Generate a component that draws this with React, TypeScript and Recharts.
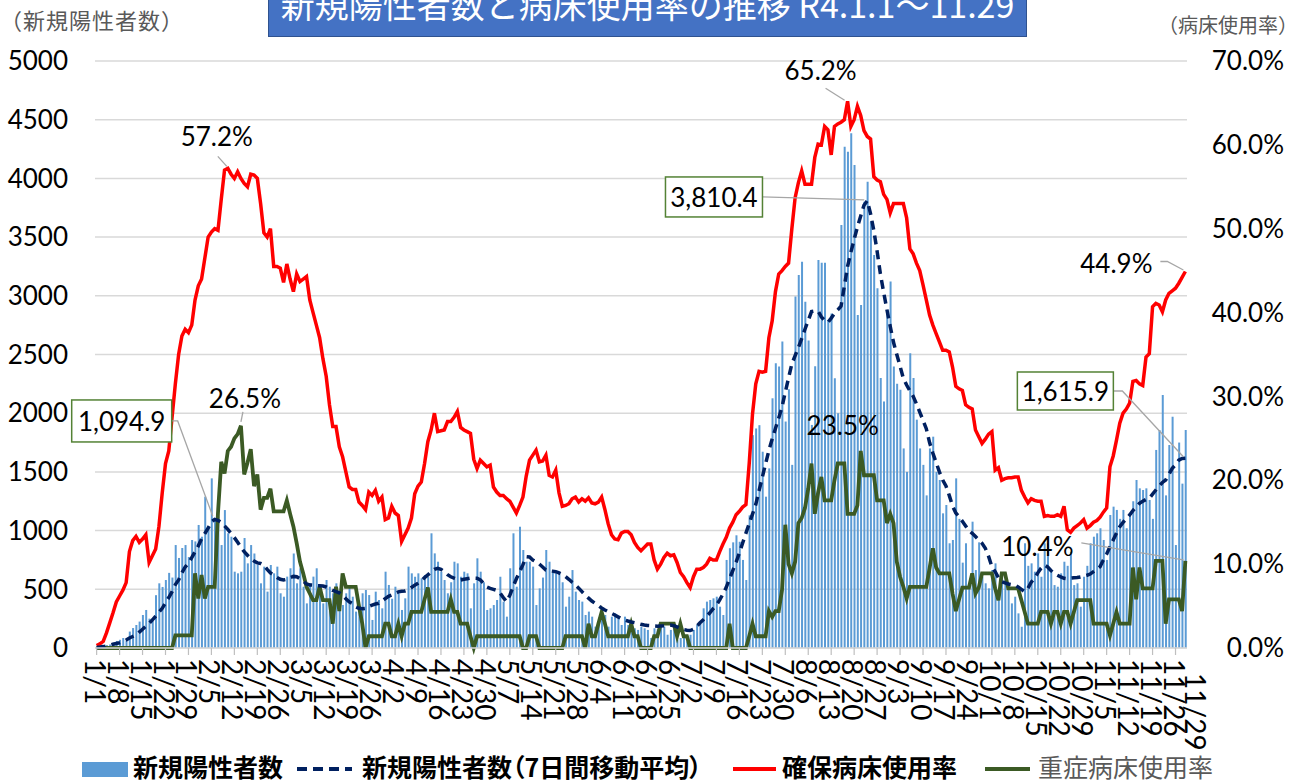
import React from "react";
import { Bar, ComposedChart, Line, XAxis, YAxis, CartesianGrid, ReferenceDot } from "recharts";

// 1/1 〜 11/29 の日付
const monthLengths = [31, 28, 31, 30, 31, 30, 31, 31, 30, 31, 29];
const dates: string[] = [];
monthLengths.forEach((len, m) => {
  for (let d = 1; d <= len; d++) dates.push(`${m + 1}/${d}`);
});

// 新規陽性者数（日別）
const positives = [
  10, 15, 12, 25, 30, 45, 60,
  70, 85, 60, 140, 170, 196, 225,
  281, 324, 250, 230, 450, 551, 520,
  579, 640, 600, 877, 767, 852, 877,
  775, 920, 908, 1048, 948, 1289, 1034,
  1445, 1090, 1118, 877, 1175, 977, 948,
  650, 636, 650, 937, 721, 877, 805,
  707, 551, 693, 480, 707, 636, 693,
  466, 437, 608, 679, 805, 551, 679,
  522, 380, 551, 608, 679, 494, 380,
  579, 522, 466, 551, 394, 366, 466,
  522, 437, 310, 324, 466, 494, 451,
  239, 480, 409, 338, 650, 537, 420,
  522, 466, 324, 423, 693, 636, 607,
  636, 594, 621, 607, 977, 806, 735,
  650, 579, 466, 560, 735, 721, 607,
  650, 636, 338, 551, 764, 650, 560,
  324, 338, 366, 409, 607, 395, 267,
  679, 977, 522, 1033, 835, 735, 735,
  693, 366, 508, 600, 835, 735, 664,
  636, 636, 560, 352, 437, 664, 480,
  409, 395, 281, 310, 267, 182, 224,
  310, 281, 182, 267, 295, 253, 196,
  267, 196, 224, 168, 154, 182, 168,
  154, 85, 168, 160, 190, 182, 113,
  154, 168, 71, 85, 85, 57, 113,
  154, 196, 210, 338, 395, 409, 423,
  437, 352, 281, 750, 850, 900, 960,
  905, 750, 579, 1130, 1813, 1870, 1898,
  1672, 1289, 1530, 2127, 2425, 2397, 2610,
  1929, 2205, 1560, 2993, 3177, 3291, 2950,
  2620, 1900, 2400, 3305, 3282, 3282, 2794,
  2850, 2298, 2000, 3603, 4270, 4228, 4384,
  4114, 2836, 2921, 3801, 3971, 3631, 3347,
  3064, 2300, 2100, 2879, 3121, 2397, 2250,
  2200, 1700, 1500, 2510, 2300, 1945, 1700,
  1560, 1300, 1700, 1800, 1500, 1431, 1147,
  1218, 892, 920, 1445, 1100, 727, 892,
  522, 1076, 664, 900, 607, 551, 508,
  664, 721, 466, 636, 580, 494, 380,
  437, 295, 181, 892, 700, 721, 650,
  806, 607, 892, 892, 664, 536, 522,
  636, 735, 700, 820, 536, 551, 352,
  607, 700, 892, 948, 977, 1020, 920,
  750, 1133, 1204, 1176, 1100, 1176, 1020,
  1147, 1250, 1431, 1360, 1346, 1360, 1261,
  1100, 1687, 1857, 2155, 1300, 1729, 1970,
  877, 1750, 1400, 1857,
];

// 新規陽性者数（7日間移動平均）
const movingAvg = [
  5, 8, 12, 18, 25, 32, 38,
  45, 55, 68, 85, 98, 111, 135,
  160, 185, 210, 240, 270, 305, 338,
  385, 430, 480, 540, 580, 640, 690,
  721, 770, 820, 870, 930, 975, 1020,
  1075, 1094.9, 1088, 1070, 1040, 1010, 975,
  940, 900, 860, 820, 790, 760, 740,
  725, 720, 705, 670, 640, 622, 600,
  585, 579, 585, 600, 610, 607, 590,
  570, 545, 537, 535, 530, 530, 528,
  520, 505, 490, 480, 470, 450, 420,
  394, 380, 350, 338, 335, 338, 355,
  366, 375, 381, 400, 420, 440, 451,
  465, 478, 483, 486, 495, 515, 535,
  551, 570, 600, 622, 650, 670, 679,
  670, 650, 625, 607, 595, 585, 579,
  585, 590, 595, 595, 594, 580, 550,
  520, 508, 500, 491, 470, 430, 394,
  450, 522, 590, 650, 710, 778, 775,
  750, 735, 715, 690, 664, 660, 655,
  650, 640, 625, 607, 585, 560, 537,
  510, 480, 451, 425, 400, 381, 360,
  340, 324, 310, 295, 281, 265, 250,
  239, 230, 222, 216, 210, 202, 196,
  192, 190, 188, 186, 188, 190, 193,
  195, 190, 180, 168, 158, 152, 149,
  160, 185, 215, 241, 270, 300, 335,
  364, 410, 460, 517, 590, 660, 732,
  810, 895, 978, 1060, 1140, 1223, 1340,
  1455, 1570, 1683, 1780, 1870, 1960, 2052,
  2180, 2300, 2420, 2490, 2560, 2635, 2715,
  2790, 2865, 2870, 2870, 2820, 2790, 2773,
  2810, 2850, 2880, 2911, 3080, 3250, 3371,
  3480, 3587, 3680, 3771, 3810.4, 3700, 3556,
  3380, 3187, 3030, 2881, 2740, 2604, 2500,
  2400, 2297, 2240, 2190, 2144, 2080, 2010,
  1940, 1868, 1750, 1660, 1580, 1500, 1430,
  1380, 1300, 1210, 1150, 1118, 1080, 1040,
  1000, 977, 950, 920, 892, 850, 780,
  693, 650, 600, 565, 555, 545, 540,
  537, 520, 500, 480, 510, 560, 594,
  640, 680, 707, 690, 660, 636, 620,
  605, 594, 590, 595, 598, 600, 605,
  612, 620, 630, 650, 670, 693, 750,
  800, 863, 920, 980, 1033, 1070, 1100,
  1133, 1170, 1200, 1233, 1250, 1265, 1275,
  1310, 1346, 1380, 1410, 1431, 1480, 1530,
  1560, 1600, 1614, 1615.9,
];

// 確保病床使用率（%）
const bedRate = [
  0.3, 0.5, 0.8, 1.8, 3.0, 4.2, 5.5,
  6.2, 6.9, 7.8, 11.5, 12.8, 13.3, 12.6,
  13.0, 13.5, 10.2, 11.0, 11.8, 14.5, 18.5,
  22.0, 23.5, 27.5, 31.5, 35.0, 37.2, 38.0,
  37.6, 38.5, 41.5, 43.2, 44.0, 46.5, 49.0,
  49.6, 50.0, 49.8, 53.5, 57.0, 57.2, 56.5,
  56.0, 56.8, 56.0, 55.4, 55.0, 56.5, 56.4,
  56.0, 53.0, 49.5, 49.0, 50.0, 45.5, 45.5,
  45.3, 43.6, 45.8, 44.0, 42.5, 44.6, 43.7,
  44.0, 44.3, 41.5, 40.0, 38.5, 37.0, 34.5,
  32.4, 29.0, 26.4, 26.4, 24.0, 22.8, 21.0,
  19.2, 18.9, 18.9, 17.4, 17.0, 16.5, 18.6,
  18.2, 18.8, 17.5, 18.0, 15.3, 15.5, 16.9,
  16.1, 15.8, 12.7, 13.5, 14.3, 15.5, 18.4,
  19.3, 19.8, 22.0, 24.6, 26.0, 28.0, 25.8,
  25.9, 26.0, 27.0, 27.0, 27.5, 28.2, 26.3,
  26.0, 25.8, 25.6, 22.5, 21.4, 22.4, 22.0,
  21.6, 21.8, 19.2, 18.6, 18.2, 18.2, 17.8,
  17.5, 16.8, 16.1, 17.0, 18.0, 20.5, 22.4,
  23.0, 23.6, 22.2, 22.3, 23.0, 20.6, 20.4,
  21.2, 18.5, 16.9, 17.0, 17.2, 17.8, 18.0,
  17.4, 17.8, 17.5, 17.9, 17.3, 17.2, 17.4,
  18.0, 16.5, 14.8, 13.5, 13.0, 12.9, 13.7,
  13.9, 13.9, 13.5, 12.6, 12.0, 11.6, 12.0,
  12.4, 12.4, 10.5, 9.4, 10.0, 10.8, 11.3,
  11.0, 11.1, 10.2, 9.0, 8.5, 7.8, 7.2,
  8.5, 9.4, 9.4, 9.6, 10.0, 10.7, 10.5,
  10.5, 11.5, 12.4, 13.2, 14.3, 15.0, 15.9,
  16.3, 16.8, 17.1, 22.0, 27.9, 31.5, 33.0,
  32.9, 33.0, 37.0, 39.0, 42.5, 44.6, 45.0,
  45.5, 45.9, 50.0, 53.7, 55.5, 56.9, 55.3,
  55.3, 55.3, 58.5, 60.1, 60.0, 62.2, 61.8,
  58.8, 62.2, 62.5, 62.7, 63.0, 65.2, 62.2,
  63.0, 64.6, 63.5, 61.7, 61.0, 60.7, 56.2,
  55.8, 55.6, 54.1, 53.5, 51.9, 53.0, 53.0,
  53.0, 53.0, 51.3, 47.6, 47.0, 45.9, 45.0,
  43.3, 41.5, 39.7, 38.5, 37.5, 36.5, 35.5,
  35.5, 35.3, 33.5, 31.2, 30.9, 30.7, 29.0,
  28.7, 28.5, 26.0, 25.2, 24.4, 24.9, 25.5,
  25.8, 21.2, 21.5, 20.0, 20.2, 20.3, 20.3,
  20.4, 20.4, 18.8, 18.0, 17.3, 17.8, 17.6,
  17.5, 17.5, 15.7, 15.8, 15.7, 15.7, 15.9,
  15.7, 16.9, 14.1, 13.8, 14.3, 14.6, 14.9,
  15.3, 14.3, 14.6, 15.0, 15.2, 15.6, 16.2,
  16.7, 21.6, 22.9, 24.8, 26.8, 28.0, 28.5,
  29.2, 31.8, 31.9, 31.5, 31.3, 34.7, 35.1,
  40.7, 41.1, 40.9, 40.1, 41.5, 42.3, 42.6,
  42.9, 43.5, 44.2, 44.9,
];

// 重症病床使用率（%）
const severeRate = [
  0, 0, 0, 0, 0, 0, 0,
  0, 0, 0, 0, 0, 0, 0,
  0, 0, 0, 0, 0, 0, 0,
  0, 0, 0, 1.5, 1.5, 1.5, 1.5,
  1.5, 1.5, 8.9, 5.9, 8.7, 5.9, 7.3,
  7.3, 7.3, 16.1, 22.2, 20.8, 23.5, 24.0,
  25.0, 25.5, 26.5, 20.7, 22.1, 23.7, 19.3,
  20.7, 16.5, 17.9, 17.9, 19.0, 16.3, 16.3,
  16.3, 16.3, 17.6, 16.0, 14.5, 12.5, 10.3,
  8.9, 7.3, 6.5, 5.7, 5.7, 7.3, 5.7,
  5.7, 5.7, 2.9, 7.3, 4.4, 8.9, 7.3,
  7.3, 7.3, 7.3, 5.0, 2.9, 0, 1.4,
  1.4, 1.4, 1.4, 1.4, 2.9, 2.9, 1.4,
  1.4, 2.9, 1.4, 2.9, 2.9, 4.3, 4.3,
  4.3, 4.3, 5.8, 7.2, 4.3, 4.3, 4.3,
  4.3, 4.3, 4.3, 5.8, 4.3, 4.3, 2.9,
  2.9, 2.9, 1.4, 0, 1.4, 1.4, 1.4,
  1.4, 1.4, 1.4, 1.4, 1.4, 1.4, 1.4,
  1.4, 1.4, 1.4, 1.4, 0, 0, 1.4,
  1.4, 1.4, 0, 0, 0, 0, 0,
  0, 0, 0, 1.4, 1.4, 1.4, 1.4,
  1.4, 1.4, 0, 2.9, 1.4, 1.4, 2.9,
  4.3, 2.9, 1.4, 1.4, 1.4, 1.4, 1.4,
  1.4, 1.4, 2.9, 1.4, 1.4, 0, 0,
  0, 0, 1.4, 1.4, 2.9, 2.9, 2.9,
  2.9, 2.9, 1.4, 2.9, 1.4, 1.4, 0,
  0, 0, 0, 0, 0, 0, 0,
  0, 0, 0, 0, 2.9, 0, 0,
  0, 0, 0, 1.4, 2.9, 1.4, 1.4,
  1.4, 1.4, 4.4, 3.7, 4.4, 4.4, 6.9,
  14.7, 10.0, 8.9, 10.3, 14.9, 15.5, 16.7,
  19.0, 22.0, 16.0, 18.5, 20.4, 17.6, 17.6,
  17.6, 20.0, 22.0, 22.0, 22.0, 16.0, 16.0,
  16.0, 17.0, 23.5, 20.6, 20.6, 20.6, 20.6,
  17.6, 17.6, 17.6, 14.9, 16.0, 14.9, 10.3,
  8.5, 7.3, 5.9, 7.3, 7.3, 7.3, 7.3,
  7.3, 7.3, 9.5, 11.9, 9.6, 8.9, 8.9,
  8.9, 8.9, 6.5, 4.4, 5.8, 7.2, 7.2,
  7.2, 8.9, 6.5, 7.2, 8.9, 8.9, 8.9,
  8.9, 7.1, 5.7, 8.9, 8.9, 7.1, 7.1,
  7.1, 7.1, 5.7, 4.3, 2.9, 2.9, 2.9,
  2.9, 4.3, 4.3, 4.3, 2.9, 4.3, 4.3,
  2.9, 4.3, 4.3, 2.9, 4.3, 5.7, 5.7,
  5.7, 5.7, 5.7, 2.9, 2.9, 2.9, 2.9,
  2.9, 1.5, 2.9, 4.3, 2.9, 2.9, 2.9,
  2.9, 9.6, 5.8, 9.6, 7.1, 7.1, 7.1,
  7.1, 10.4, 10.4, 10.4, 2.9, 5.8, 5.8,
  5.8, 5.8, 4.4, 10.4,
];

const leftTicks = [0, 500, 1000, 1500, 2000, 2500, 3000, 3500, 4000, 4500, 5000];
const rightTicks = [0, 10, 20, 30, 40, 50, 60, 70];

const data = dates.map((date, i) => ({
  date,
  positives: positives[i],
  avg: movingAvg[i],
  bed: bedRate[i],
  severe: severeRate[i],
}));

const LAST = dates.length - 1;
const NUM_FONT = "Lato, 'Liberation Sans', sans-serif";
const JP_FONT = "'Noto Sans CJK JP', 'Noto Sans', sans-serif";

const fmtPct = (v: number) => `${v.toFixed(1)}%`;
const fmtNum = (v: number) =>
  v.toLocaleString("en-US", { minimumFractionDigits: 1, maximumFractionDigits: 1 });

const DateTick = (props: any) => {
  const { x, y, payload } = props;
  const i = props.index ?? payload.index;
  const last = i === LAST;
  if (i % 7 !== 0 && !last) return null;
  return (
    <g>
      {!last && <line x1={x} x2={x} y1={y - 8} y2={y - 1} stroke="#BFBFBF" strokeWidth={1.2} />}
      <text
        transform={`translate(${last ? x + 11 : x - 1},${y + (last ? 17 : 3)}) rotate(90)`}
        textAnchor="start"
        dominantBaseline="central"
        fontSize={28}
        fontFamily={NUM_FONT}
        fill="#000"
      >
        {payload.value}
      </text>
    </g>
  );
};

const RightTick = (props: any) => {
  const { x, y, payload } = props;
  return (
    <text x={x + 89} y={y} dy="0.35em" textAnchor="end" fontSize={26} fontFamily={NUM_FONT} fill="#000">
      {fmtPct(payload.value)}
    </text>
  );
};

type Box = { x: number; y: number; w: number; h: number };

const noteShape =
  (text: string, tx: number, ty: number, path: number[][], box?: Box) => (p: any) => {
    const { cx, cy } = p;
    return (
      <g>
        {path.length > 0 && (
          <polyline
            points={path.map(([dx, dy]) => `${cx + dx},${cy + dy}`).join(" ")}
            fill="none"
            stroke="#A6A6A6"
            strokeWidth={1.3}
          />
        )}
        {box && (
          <rect x={cx + box.x} y={cy + box.y} width={box.w} height={box.h} fill="#fff" stroke="#548235" strokeWidth={1.5} />
        )}
        <text
          x={cx + (box ? box.x + box.w / 2 : tx)}
          y={cy + (box ? box.y + box.h / 2 : ty)}
          textAnchor="middle"
          dominantBaseline="central"
          fontSize={26}
          fontFamily={NUM_FONT}
          fill="#000"
        >
          {text}
        </text>
      </g>
    );
  };

export default function App() {
  return (
    <div
      style={{
        position: "absolute",
        left: 0,
        top: 0,
        width: 1298,
        height: 780,
        overflow: "hidden",
        background: "#fff",
        fontFamily: JP_FONT,
      }}
    >
      <ComposedChart
        width={1298}
        height={780}
        data={data}
        margin={{ top: 61, right: 0, bottom: 52, left: 8 }}
      >
        <CartesianGrid yAxisId="left" vertical={false} stroke="#D9D9D9" strokeWidth={1.5} />
        <XAxis
          dataKey="date"
          interval={0}
          height={80}
          tickLine={false}
          axisLine={{ stroke: "#D9D9D9", strokeWidth: 1.5 }}
          tick={(p: any) => <DateTick {...p} />}
        />
        <YAxis
          yAxisId="left"
          domain={[0, 5000]}
          ticks={leftTicks}
          width={87}
          axisLine={false}
          tickLine={false}
          tickMargin={21}
          tick={{ fontSize: 26, fill: "#000", fontFamily: NUM_FONT }}
        />
        <YAxis
          yAxisId="right"
          orientation="right"
          domain={[0, 70]}
          ticks={rightTicks}
          width={111}
          axisLine={false}
          tickLine={false}
          tick={(p: any) => <RightTick {...p} />}
        />
        <Bar yAxisId="left" dataKey="positives" fill="#5B9BD5" barSize={2} isAnimationActive={false} />
        <Line
          yAxisId="right"
          type="linear"
          dataKey="bed"
          stroke="#FF0000"
          strokeWidth={3.5}
          dot={false}
          activeDot={false}
          isAnimationActive={false}
        />
        <Line
          yAxisId="right"
          type="linear"
          dataKey="severe"
          stroke="#3B5A24"
          strokeWidth={3.8}
          dot={false}
          activeDot={false}
          isAnimationActive={false}
        />
        <Line
          yAxisId="left"
          type="linear"
          dataKey="avg"
          stroke="#002060"
          strokeWidth={3.5}
          strokeDasharray="9 6"
          dot={false}
          activeDot={false}
          isAnimationActive={false}
        />

        <ReferenceDot yAxisId="right" x={dates[40]} y={bedRate[40]} r={0}
          shape={noteShape(fmtPct(bedRate[40]), -11, -32, [[-10, -12], [-1, -2]])} />
        <ReferenceDot yAxisId="right" x={dates[44]} y={severeRate[44]} r={0}
          shape={noteShape(fmtPct(severeRate[44]), 4, -28, [[2, -14], [0, -4]])} />
        <ReferenceDot yAxisId="left" x={dates[36]} y={movingAvg[36]} r={0}
          shape={noteShape(fmtNum(movingAvg[36]), 0, 0, [[-43, -98.5], [-37, -98.5], [-2, -3.5]], { x: -143, y: -119.5, w: 100, h: 42 })} />
        <ReferenceDot yAxisId="left" x={dates[235]} y={movingAvg[235]} r={0}
          shape={noteShape(fmtNum(movingAvg[235]), 0, 0, [[-104.8, -3.7], [-3, -0.7]], { x: -201.8, y: -23.7, w: 97, h: 40 })} />
        <ReferenceDot yAxisId="right" x={dates[229]} y={bedRate[229]} r={0}
          shape={noteShape(fmtPct(bedRate[229]), -27, -31.5, [[-22, -13], [-3, -1]])} />
        <ReferenceDot yAxisId="right" x={dates[233]} y={severeRate[233]} r={0}
          shape={noteShape(fmtPct(severeRate[233]), -18, -26, [])} />
        <ReferenceDot yAxisId="right" x={dates[LAST]} y={bedRate[LAST]} r={0}
          shape={noteShape(fmtPct(bedRate[LAST]), -69, -8.5, [[-25, -10], [-18, -10], [-2, -1.5]])} />
        <ReferenceDot yAxisId="left" x={dates[LAST]} y={movingAvg[LAST]} r={0}
          shape={noteShape(fmtNum(movingAvg[LAST]), 0, 0, [[-72, -67.3], [-63, -67.3], [-2, -1.5]], { x: -168, y: -86.3, w: 96, h: 38 })} />
        <ReferenceDot yAxisId="right" x={dates[LAST]} y={severeRate[LAST]} r={0}
          shape={noteShape(fmtPct(severeRate[LAST]), -148, -15, [[-104, -18], [-2, -1]])} />
      </ComposedChart>

      {/* タイトル（上端が切れている） */}
      <div
        style={{
          position: "absolute",
          left: 268,
          top: -30,
          width: 759,
          height: 67,
          background: "#4472C4",
          border: "1px solid #2F528F",
          boxSizing: "border-box",
        }}
      >
        <div
          style={{
            position: "absolute",
            left: 0,
            right: 0,
            top: 16,
            textAlign: "center",
            color: "#fff",
            fontSize: 34,
            lineHeight: "34px",
            whiteSpace: "nowrap",
          }}
        >
          新規陽性者数と病床使用率の推移 R4.1.1～11.29
        </div>
      </div>

      <div style={{ position: "absolute", left: 0, top: 6, fontSize: 22, lineHeight: "26px", letterSpacing: 1, color: "#595959" }}>
        （新規陽性者数）
      </div>
      <div style={{ position: "absolute", left: 1158, top: 13, fontSize: 20, lineHeight: "24px", color: "#595959" }}>
        （病床使用率）
      </div>

      {/* 凡例 */}
      <div style={{ position: "absolute", left: 0, top: 753, width: 1298, height: 26 }}>
        <svg width={1298} height={26} style={{ position: "absolute", left: 0, top: 0 }}>
          <rect x={82} y={9} width={46} height={15} fill="#5B9BD5" />
          <line x1={297} x2={352} y1={16} y2={16} stroke="#002060" strokeWidth={4} strokeDasharray="10 6" />
          <line x1={733} x2={776} y1={16} y2={16} stroke="#FF0000" strokeWidth={4} />
          <line x1={985} x2={1030} y1={16} y2={16} stroke="#3B5A24" strokeWidth={4} />
        </svg>
        {[
          { label: "新規陽性者数", left: 133, color: "#000", weight: 700 },
          { label: "新規陽性者数（7日間移動平均）", left: 362, color: "#000", weight: 700 },
          { label: "確保病床使用率", left: 782, color: "#000", weight: 700 },
          { label: "重症病床使用率", left: 1038, color: "#595959", weight: 400 },
        ].map((item) => (
          <span
            key={item.label}
            style={{
              position: "absolute",
              left: item.left,
              top: 1,
              fontSize: 25,
              lineHeight: "25px",
              fontWeight: item.weight,
              color: item.color,
              whiteSpace: "nowrap",
              fontFeatureSettings: '"palt"',
            }}
          >
            {item.label}
          </span>
        ))}
      </div>
    </div>
  );
}
